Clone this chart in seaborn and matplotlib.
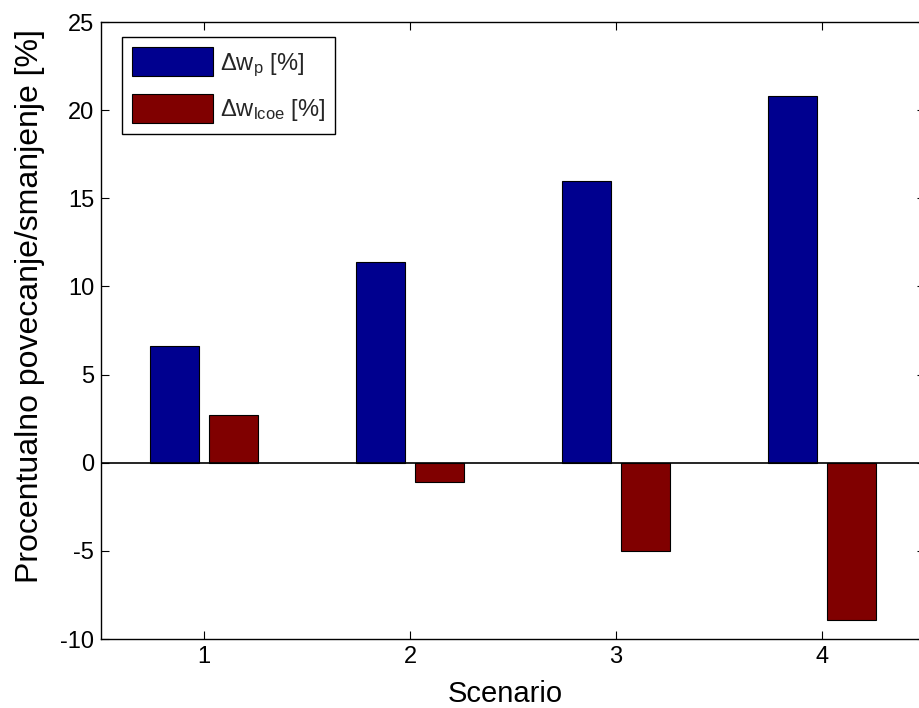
import pandas as pd
import seaborn as sns
import matplotlib.pyplot as plt

# Daten
scenarios = ["1", "2", "3", "4"]
delta_wp = [6.6, 11.4, 16.0, 20.8]
delta_wlcoe = [2.7, -1.1, -5.0, -8.9]
series_labels = [r"$\mathregular{\Delta w_p}$ [%]", r"$\mathregular{\Delta w_{lcoe}}$ [%]"]
colors = ["#00008F", "#800000"]
y_ticks = [-10, -5, 0, 5, 10, 15, 20, 25]

df = pd.DataFrame({
    "Scenario": scenarios * 2,
    "value": delta_wp + delta_wlcoe,
    "series": [series_labels[0]] * 4 + [series_labels[1]] * 4,
})

sns.set_theme(style="ticks")
plt.rcParams["font.family"] = ["Liberation Sans", "DejaVu Sans"]
plt.rcParams["mathtext.fontset"] = "custom"
plt.rcParams["mathtext.rm"] = "Liberation Sans"
plt.rcParams["mathtext.it"] = "Liberation Sans"
plt.rcParams["axes.unicode_minus"] = False

fig = plt.figure(figsize=(9.2, 7.08), dpi=100)
ax = fig.add_axes([101 / 920, 1 - 639 / 708, 824 / 920, 617 / 708])

sns.barplot(data=df, x="Scenario", y="value", hue="series", order=scenarios,
            hue_order=series_labels, palette=colors, width=0.572, gap=0.17,
            edgecolor="black", linewidth=0.8, saturation=1, ax=ax)

ax.axhline(0, color="black", lw=1.2, zorder=5)
ax.set_xlim(-0.5, 3.5)
ax.set_ylim(-10, 25)
ax.set_yticks(y_ticks)
ax.set_xlabel("Scenario", fontsize=21, color="black")
ax.set_ylabel("Procentualno povecanje/smanjenje [%]", fontsize=23, color="black")
ax.xaxis.set_label_coords(0.49, -0.066)
ax.yaxis.set_label_coords(-0.068, 0.54)
ax.tick_params(direction="in", length=6, width=0.8, labelsize=17, pad=5,
               top=True, right=True, colors="black")
for s in ax.spines.values():
    s.set_visible(True)
    s.set_linewidth(1.0)
    s.set_color("black")

handles, labels = ax.get_legend_handles_labels()
leg = ax.legend(handles, labels, loc="upper left", bbox_to_anchor=(0.025, 0.976),
                borderaxespad=0, fontsize=17, handlelength=3.4, handleheight=1.5,
                labelspacing=0.65, handletextpad=0.3, borderpad=0.45,
                fancybox=False, framealpha=1, edgecolor="black")
leg.get_frame().set_linewidth(1.0)

plt.savefig("out.png", dpi=100)
plt.close()
